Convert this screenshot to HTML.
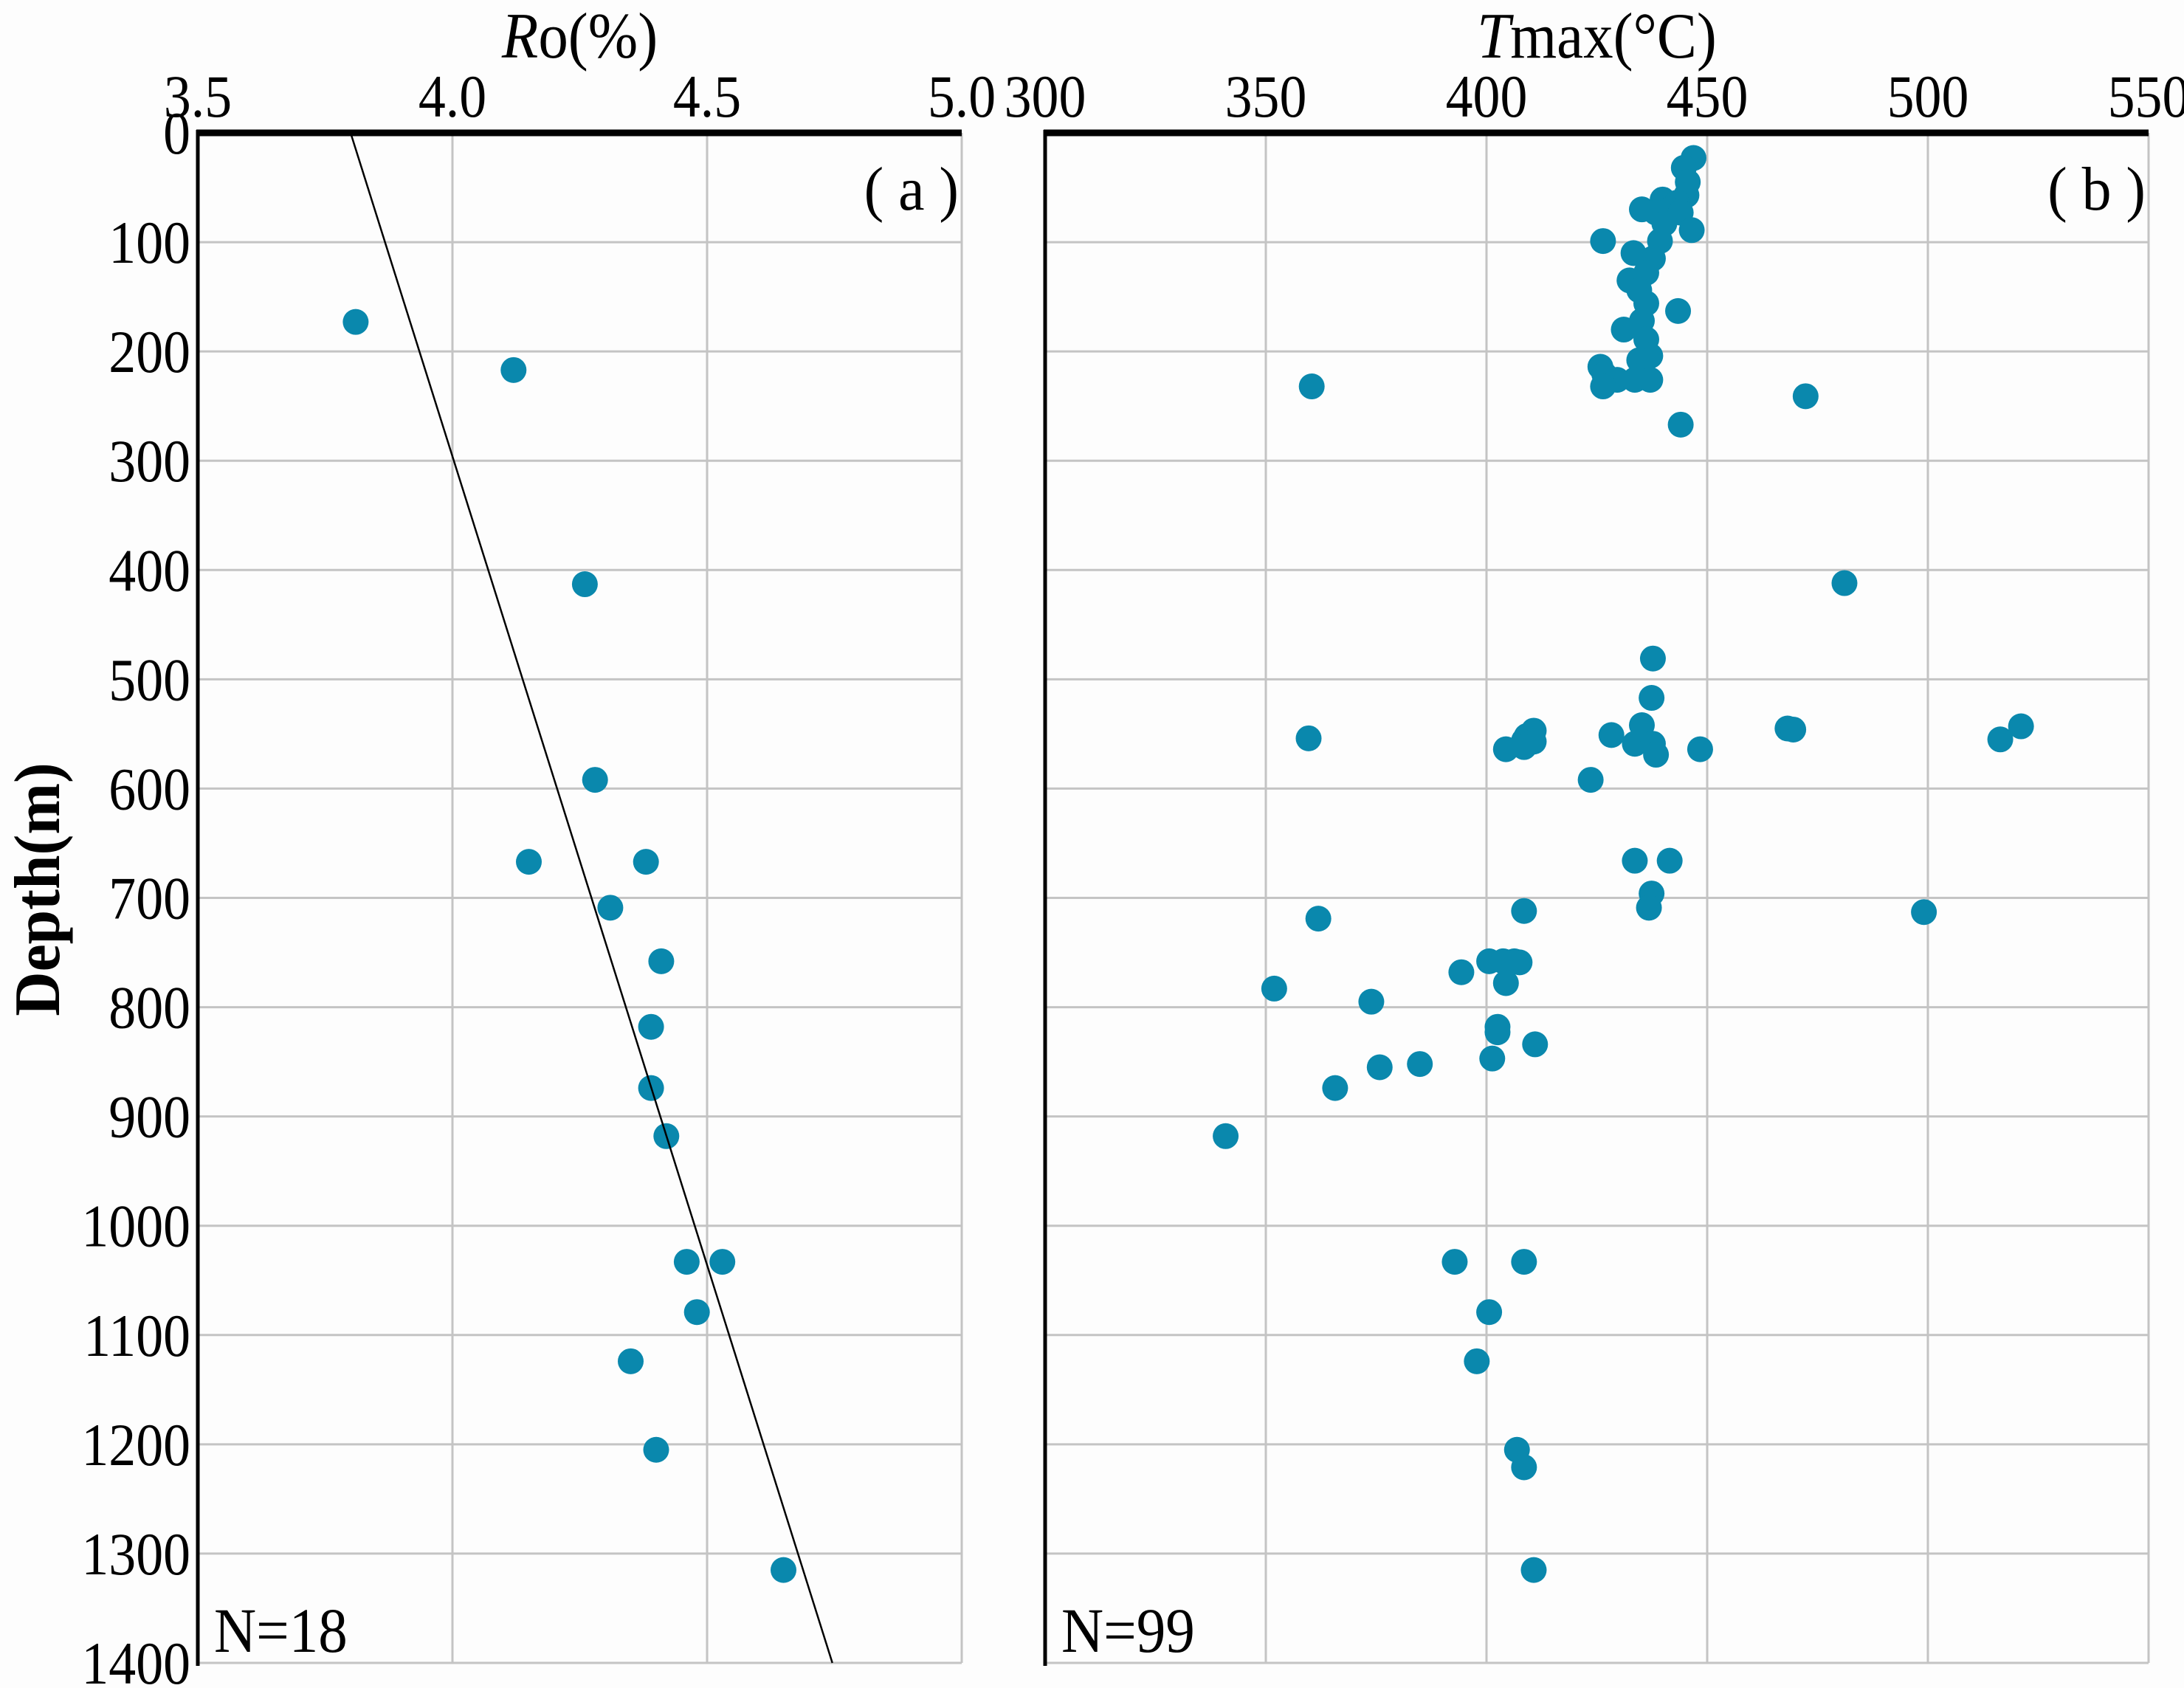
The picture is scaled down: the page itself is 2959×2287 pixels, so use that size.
<!DOCTYPE html>
<html><head><meta charset="utf-8"><style>
html,body{margin:0;padding:0;background:#fdfdfd;}
svg{display:block;font-family:"Liberation Serif",serif;}
</style></head><body>
<svg id="chart" width="2959" height="2287" viewBox="0 0 2959 2287" xmlns="http://www.w3.org/2000/svg">
<rect x="0" y="0" width="2959" height="2287" fill="#fdfdfd"/>
<g id="pa"></g>
<g id="pb"></g>
<text x="0" y="0" transform="translate(80,1205) rotate(-90) scale(0.95,1)" text-anchor="middle" font-size="88" font-weight="bold">Depth(m)</text>
</svg>
<script>
const depthTicks = [0,100,200,300,400,500,600,700,800,900,1000,1100,1200,1300,1400];
const roTicks = ["3.5","4.0","4.5","5.0"];
const tmaxTicks = ["300","350","400","450","500","550"];
const roValues = [3.81,4.12,4.26,4.28,4.15,4.38,4.31,4.41,4.39,4.39,4.42,4.46,4.53,4.48,4.35,4.40,4.65];
const roDepths = [173,217,413,592,667,667,709,758,818,874,918,1033,1033,1079,1124,1205,1315];
const trendRo = [3.80,4.746];
const trendDepth = [0,1400];
const tmaxValues = [446.9,444.7,445.6,445.3,439.9,443.1,441.5,435.2,438.4,444.0,440.3,446.5,439.3,426.4,437.7,433.3,436.2,432.4,434.6,436.2,443.4,435.2,431.1,436.2,437.1,434.6,425.8,426.7,429.6,433.6,437.1,426.4,360.4,472.3,444.0,
481.1,437.7,437.4,435.2,521.1,468.2,469.5,410.7,428.3,409.1,516.4,359.7,408.5,433.6,437.7,410.7,438.4,448.4,404.4,408.5,423.6,433.6,441.5,437.4,436.8,408.5,499.1,361.9,400.6,403.8,407.5,406.3,394.3,351.9,404.4,373.9,402.5,402.5,411.0,401.3,384.9,375.8,365.7,340.9,392.8,408.5,400.6,397.8,406.9,408.5,410.7];
const tmaxDepths = [23,32,45,57,61,64,70,70,73,73,83,89,99,99,115,110,128,135,144,156,163,172,180,189,204,208,214,221,226,226,226,232,232,241,267,
412,481,517,542,543,545,546,547,551,552,555,554,556,559,559,557,569,564,564,562,592,666,666,696,709,712,713,719,758,758,759,758,768,783,778,795,818,823,834,847,852,855,874,918,1033,1033,1079,1124,1205,1221,1315];

const NS="http://www.w3.org/2000/svg";
const top0=180, perDepth=(2253-180)/1400;
function yD(d){return top0+d*perDepth;}
function mk(tag,attrs,parent,txt){const e=document.createElementNS(NS,tag);for(const k in attrs)e.setAttribute(k,attrs[k]);if(txt!==undefined)e.textContent=txt;parent.appendChild(e);return e;}
function txt(parent,x,y,anchor,size,s,sx){return mk('text',{x:0,y:0,transform:'translate('+x+','+y+') scale('+(sx||0.9)+',1)','text-anchor':anchor,'font-size':size},parent,s);}

function panel(g,x0,x1,vmin,vmax,ticks,titleItalic,titleRest,label,nText,xs,ds,showY){
  const xS=v=>x0+(v-vmin)/(vmax-vmin)*(x1-x0);
  const n=ticks.length;
  for(let i=1;i<n;i++){const v=parseFloat(ticks[i]);
    const l=mk('line',{x1:xS(v),x2:xS(v),y1:top0,y2:yD(1400),stroke:'#c4c4c4','stroke-width':3},g);
    
    }
  for(let i=1;i<depthTicks.length;i++){const d=depthTicks[i];
    const l=mk('line',{x1:x0,x2:x1,y1:yD(d),y2:yD(d),stroke:'#c4c4c4','stroke-width':3},g);
    
    }
  const la=mk('line',{x1:x0,x2:x0,y1:top0-4,y2:yD(1400)+4,stroke:'#000','stroke-width':5},g);
  
  
  const ta=mk('line',{x1:x0-2,x2:x1,y1:top0,y2:top0,stroke:'#000','stroke-width':9},g);
  
  
  ticks.forEach(t=>{const v=parseFloat(t);
    const e=txt(g,xS(v),158,'middle',82,t);
    
    });
  if(showY){depthTicks.forEach(d=>{
    const e=txt(g,258,yD(d)+28,'end',82,String(d));
    
    });}
  const tt=mk('text',{x:0,y:0,transform:'translate('+((x0+x1)/2)+',78) scale(0.92,1)','text-anchor':'middle','font-size':88},g);
  
  
  mk('tspan',{'font-style':'italic'},tt,titleItalic);
  mk('tspan',{},tt,titleRest);
  const pl=txt(g,x1-4,284,'end',84,label,0.95);
  
  
  const nt=txt(g,x0+22,2238,'start',86,nText,0.92);
  
  
  for(let i=0;i<xs.length;i++){
    const c=mk('ellipse',{cx:xS(xs[i]),cy:yD(ds[i]),rx:17.5,ry:17.5,fill:'#0a88ad'},g);
    
    
  }
  return xS;
}
const xa=panel(document.getElementById('pa'),268,1303,3.5,5.0,roTicks,'R','o(%)','( a )','N=18',roValues,roDepths,true);
const tl=mk('line',{x1:xa(trendRo[0]),y1:yD(trendDepth[0]),x2:xa(trendRo[1]),y2:yD(trendDepth[1]),stroke:'#000','stroke-width':2.5},document.getElementById('pa'));


panel(document.getElementById('pb'),1416,2911,300,550,tmaxTicks,'T','max(°C)','( b )','N=99',tmaxValues,tmaxDepths,false);
</script>
</body></html>
